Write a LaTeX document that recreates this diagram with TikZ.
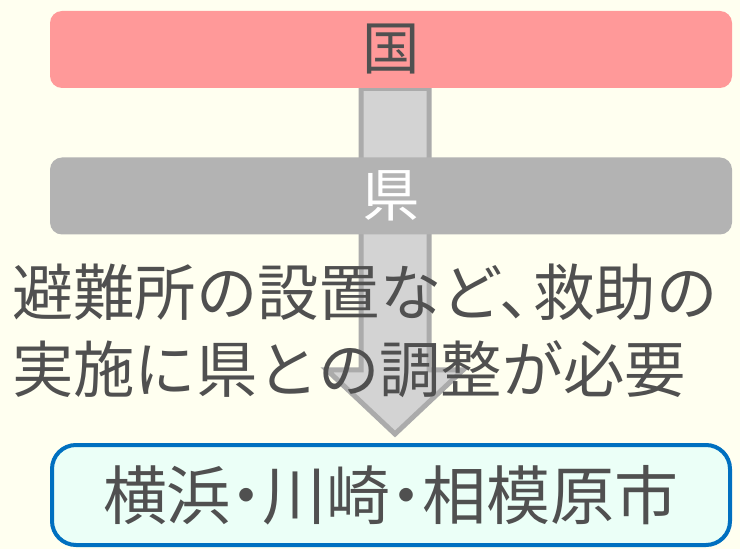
\documentclass[tikz,border=0pt]{standalone}
\usepackage{fontspec}
\usepackage{xcolor}
\usetikzlibrary{calc}
\newfontfamily\jpfont{Noto Sans CJK JP}
\definecolor{bgivory}{HTML}{FFFFF0}
\definecolor{kunired}{HTML}{FF9999}
\definecolor{kengray}{HTML}{B3B3B3}
\definecolor{arrowfill}{HTML}{D3D3D3}
\definecolor{arrowline}{HTML}{ABABAB}
\definecolor{shifill}{HTML}{EBFFF7}
\definecolor{shiblue}{HTML}{0070C0}
\definecolor{txtgray}{HTML}{505050}
\pgfdeclarelayer{bg}
\pgfdeclarelayer{behind}
\pgfsetlayers{bg,behind,main}
\tikzset{
  band/.style={rectangle,rounded corners=9pt,minimum width=511.5pt,minimum height=57.75pt,
    inner sep=0pt,font=\jpfont\fontsize{43}{50}\selectfont},
  cities/.style={rectangle,rounded corners=18pt,draw=shiblue,line width=3pt,fill=shifill,
    minimum width=508.5pt,minimum height=75pt,inner sep=0pt,text=txtgray,
    font=\jpfont\fontsize{48}{56}\selectfont},
}

\begin{document}
\begin{tikzpicture}[x=0.75pt,y=-0.75pt]
            \useasboundingbox (0,0) rectangle (740,549);
            \begin{pgfonlayer}{bg}
                \fill[bgivory] (0,0) rectangle (740,549);
            \end{pgfonlayer}

            \node[band,fill=kunired,text=txtgray] (kuni) at (391,49.5){国};
            \node[band,fill=kengray,text=white] (ken) at (391,196){県};
            \node[cities] (shi) at (391,495){横浜\hspace{-0.25em}・\hspace{-0.25em}川崎\hspace{-0.25em}・\hspace{-0.25em}相模原市};

            \node[anchor=west,align=left,inner sep=0pt,text=txtgray,
                  font=\jpfont\fontsize{46}{57.75}\selectfont] (memo) at (12,331)
                  {避難所の設置など、\hspace{-0.45em}救助の\\実施に県との調整が必要};

            % block arrow from kuni down to shi
            \coordinate (tip) at ($(shi.north)+(4,-9)$);
            \coordinate (sl) at ($(tip)+(-34,-64)$);
            \coordinate (sr) at ($(tip)+(34,-64)$);
            \begin{pgfonlayer}{behind}
                \draw[arrowline,fill=arrowfill,line width=3.75pt,line join=miter]
                    (sl |- kuni.south) -- (sl) -- ($(tip)+(-68,-64)$) -- (tip)
                    -- ($(tip)+(68,-64)$) -- (sr) -- (sr |- kuni.south) -- cycle;
            \end{pgfonlayer}
\end{tikzpicture}
\end{document}
